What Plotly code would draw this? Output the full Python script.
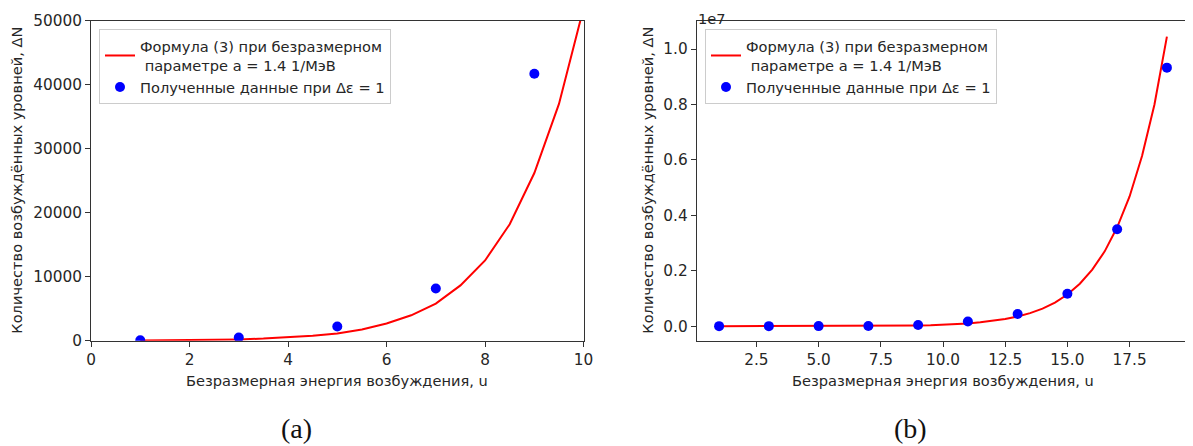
import plotly.graph_objects as go

# ---------------- data ----------------
u_curve = [1, 1.5, 2, 2.5, 3, 3.5, 4, 4.5, 5, 5.5, 6, 6.5, 7, 7.5, 8, 8.5, 9, 9.5,
           10, 10.5, 11, 11.5, 12, 12.5, 13, 13.5, 14, 14.5, 15, 15.5, 16, 16.5,
           17, 17.5, 18, 18.5, 19]
N_curve = [18, 40, 72, 125, 207, 330, 510, 760, 1120, 1750, 2680, 3970, 5800, 8640,
           12540, 18200, 26200, 37000, 52000, 72000, 99600, 137000, 187000, 255000,
           348000, 470000, 634000, 851000, 1140000, 1530000, 2040000, 2700000,
           3570000, 4680000, 6140000, 8000000, 10450000]

u_points = [1, 3, 5, 7, 9, 11, 13, 15, 17, 19]
N_points = [60, 500, 2230, 8150, 41700, 165000, 440000, 1170000, 3500000, 9330000]

curve_name = "Формула (3) при безразмерном<br>\u00a0параметре a = 1.4 1/МэВ"
points_name = "Полученные данные при Δε = 1"

x_title = "Безразмерная энергия возбуждения, u"
y_title = "Количество возбуждённых уровней, ΔN"

a_xticks = [0, 2, 4, 6, 8, 10]
a_yticks = [0, 10000, 20000, 30000, 40000, 50000]
b_xticks = [2.5, 5.0, 7.5, 10.0, 12.5, 15.0, 17.5]
b_xticktext = ["2.5", "5.0", "7.5", "10.0", "12.5", "15.0", "17.5"]
b_yticks = [0, 2e6, 4e6, 6e6, 8e6, 1e7]
b_yticktext = ["0.0", "0.2", "0.4", "0.6", "0.8", "1.0"]

# ---------------- figure ----------------
OFF = 8                       # default body margin of the html page
W, H = 1193, 446
FONT = "DejaVu Sans"
TXT = "#262626"
FS = 14.6
FT = 15.3

def px_x(p):
    return (p - OFF) / W

def px_y(p):
    return 1 - (p - OFF) / H

fig = go.Figure()

# panel (a)
fig.add_trace(go.Scatter(x=u_curve, y=N_curve, mode="lines", name=curve_name,
                         line=dict(color="#ff0000", width=2),
                         xaxis="x", yaxis="y", legend="legend"))
fig.add_trace(go.Scatter(x=u_points, y=N_points, mode="markers", name=points_name,
                         marker=dict(color="#0000ff", size=10),
                         xaxis="x", yaxis="y", legend="legend"))
# panel (b)
fig.add_trace(go.Scatter(x=u_curve, y=N_curve, mode="lines", name=curve_name,
                         line=dict(color="#ff0000", width=2),
                         xaxis="x2", yaxis="y2", legend="legend2"))
fig.add_trace(go.Scatter(x=u_points, y=N_points, mode="markers", name=points_name,
                         marker=dict(color="#0000ff", size=10),
                         xaxis="x2", yaxis="y2", legend="legend2"))

axis_common = dict(showline=True, mirror=True, linecolor="#333333", linewidth=1,
                   ticks="outside", ticklen=5, tickcolor="#333333", showgrid=False,
                   zeroline=False, automargin=False,
                   tickfont=dict(family=FONT, size=FT, color=TXT))

y_dom = [px_y(340.7), px_y(20.7)]

fig.update_layout(
    width=W, height=H,
    margin=dict(l=0, r=0, t=0, b=0, autoexpand=False),
    paper_bgcolor="white", plot_bgcolor="white",
    font=dict(family=FONT, size=FS, color=TXT),
    xaxis=dict(domain=[px_x(91), px_x(583.6)], range=[0, 10], anchor="y",
               tickvals=a_xticks, **axis_common),
    yaxis=dict(domain=y_dom, range=[0, 50000], anchor="x",
               tickvals=a_yticks, tickformat="d", **axis_common),
    xaxis2=dict(domain=[px_x(696.7), px_x(1189.3)], range=[0.1, 19.9], anchor="y2",
                tickvals=b_xticks, ticktext=b_xticktext, **axis_common),
    yaxis2=dict(domain=y_dom, range=[-525000, 11025000], anchor="x2",
                tickvals=b_yticks, ticktext=b_yticktext, **axis_common),
    legend=dict(x=px_x(99), y=px_y(29), xanchor="left", yanchor="top",
                bgcolor="white", bordercolor="#cccccc", borderwidth=1,
                font=dict(family=FONT, size=FS, color=TXT), itemwidth=30,
                tracegroupgap=0),
    legend2=dict(x=px_x(705), y=px_y(29), xanchor="left", yanchor="top",
                 bgcolor="white", bordercolor="#cccccc", borderwidth=1,
                 font=dict(family=FONT, size=FS, color=TXT), itemwidth=30,
                 tracegroupgap=0),
    showlegend=True,
)

ann = []
# x-axis titles
ann.append(dict(text=x_title, x=px_x(337.3), y=px_y(380), xref="paper", yref="paper",
                showarrow=False, xanchor="center", yanchor="middle",
                font=dict(family=FONT, size=FS, color=TXT)))
ann.append(dict(text=x_title, x=px_x(943), y=px_y(380), xref="paper", yref="paper",
                showarrow=False, xanchor="center", yanchor="middle",
                font=dict(family=FONT, size=FS, color=TXT)))
# y-axis titles
ann.append(dict(text=y_title, x=px_x(17), y=px_y(180.7), xref="paper", yref="paper",
                showarrow=False, xanchor="center", yanchor="middle", textangle=-90,
                font=dict(family=FONT, size=FS, color=TXT)))
ann.append(dict(text=y_title, x=px_x(648), y=px_y(180.7), xref="paper", yref="paper",
                showarrow=False, xanchor="center", yanchor="middle", textangle=-90,
                font=dict(family=FONT, size=FS, color=TXT)))
# offset text (kept just inside the page's top edge)
ann.append(dict(text="1e7", x=px_x(696), y=1, xref="paper", yref="paper",
                showarrow=False, xanchor="left", yanchor="top",
                font=dict(family=FONT, size=FS, color=TXT)))
# captions
ann.append(dict(text="(a)", x=px_x(296), y=px_y(428), xref="paper", yref="paper",
                showarrow=False, xanchor="center", yanchor="middle",
                font=dict(family="Liberation Serif", size=28, color="#111111")))
ann.append(dict(text="(b)", x=px_x(910), y=px_y(428), xref="paper", yref="paper",
                showarrow=False, xanchor="center", yanchor="middle",
                font=dict(family="Liberation Serif", size=28, color="#111111")))
fig.update_layout(annotations=ann)

fig.write_html("out.html")
